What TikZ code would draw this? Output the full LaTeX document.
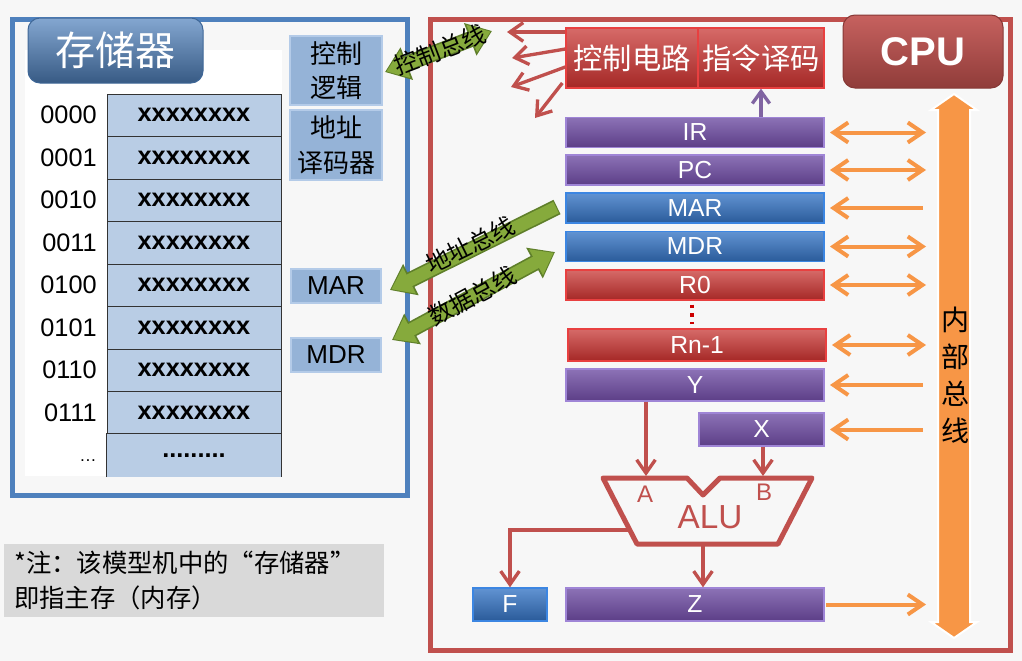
\documentclass[tikz,border=0pt]{standalone}
\usepackage{fontspec}
\setmainfont{Liberation Sans}
\newfontfamily\cjk{Noto Sans CJK SC}
\usetikzlibrary{arrows.meta,calc}
\definecolor{bgc}{HTML}{F7F7F7}
\definecolor{memblue}{HTML}{4F81BD}
\definecolor{cellc}{HTML}{B9CDE5}
\definecolor{sideF}{HTML}{95B3D7}
\definecolor{sideB}{HTML}{B4CBE8}
\definecolor{cpured}{HTML}{C0504D}
\definecolor{orng}{HTML}{F79646}
\definecolor{gbusc}{HTML}{86AA3C}
\definecolor{gbusd}{HTML}{5F7F2A}
\definecolor{pT}{HTML}{8C72B6}
\definecolor{pB}{HTML}{5C3E87}
\definecolor{pD}{HTML}{9F85D6}
\definecolor{rT}{HTML}{D66A68}
\definecolor{rB}{HTML}{A52826}
\definecolor{rD}{HTML}{E84040}
\definecolor{bT}{HTML}{6193D2}
\definecolor{bB}{HTML}{2A5B9A}
\definecolor{bD}{HTML}{3C86E2}
\definecolor{notegray}{HTML}{D9D9D9}
\definecolor{purpA}{HTML}{8064A2}
\newcommand{\regf}{\fontsize{18.5}{21}\selectfont}
\begin{document}
\begin{tikzpicture}[x=0.75pt,y=-0.75pt,
  regbase/.style={rectangle, line width=1pt, text=white, font=\regf, minimum width=193.5pt, minimum height=22.5pt, inner sep=0pt},
  purplereg/.style={regbase, draw=pD, top color=pT, bottom color=pB},
  redreg/.style={regbase, draw=rD, top color=rT, bottom color=rB},
  bluereg/.style={regbase, draw=bD, top color=bT, bottom color=bB},
  cell/.style={rectangle, draw=black!80, line width=0.75pt, fill=cellc, minimum width=130.5pt, minimum height=31.875pt, inner sep=0pt, font=\bfseries\fontsize{19}{22}\selectfont},
  addr/.style={anchor=east, inner sep=0pt, font=\fontsize{19}{22}\selectfont},
  sidebox/.style={rectangle, draw=sideB, line width=1.5pt, fill=sideF, align=center, inner sep=0pt, font=\cjk\fontsize{19.5}{26}\selectfont},
  oboth/.style={draw=orng, line width=3pt, {Straight Barb[length=11pt,width=15pt]}-{Straight Barb[length=11pt,width=15pt]}, shorten <=4pt, shorten >=9pt},
  oleft/.style={draw=orng, line width=3pt, {Straight Barb[length=11pt,width=15pt]}-, shorten <=4pt, shorten >=11pt},
  oright/.style={draw=orng, line width=3pt, -{Straight Barb[length=11pt,width=15pt]}, shorten <=1pt, shorten >=9pt},
  rarr/.style={draw=cpured, line width=2.5pt, -{Straight Barb[length=10pt,width=14pt]}},
  parr/.style={draw=purpA, line width=2.5pt, -{Straight Barb[length=9pt,width=13pt]}},
  gbothd/.style={draw=gbusd, line width=12pt, {Triangle[length=17.5pt,width=25pt]}-{Triangle[length=17.5pt,width=25pt]}},
  gsingled/.style={draw=gbusd, line width=12pt, -{Triangle[length=17.5pt,width=25pt]}},
  gboth/.style={draw=gbusc, line width=9.5pt, {Triangle[length=15pt,width=21pt]}-{Triangle[length=15pt,width=21pt]}, shorten <=1.2pt, shorten >=1.2pt},
  gsingle/.style={draw=gbusc, line width=9.5pt, -{Triangle[length=15pt,width=21pt]}, shorten <=0.8pt, shorten >=1.2pt},
  gtext/.style={font=\cjk\fontsize{18}{20}\selectfont, inner sep=0pt},
  alutext/.style={text=cpured, inner sep=0pt}
]
\useasboundingbox (0,0) rectangle (1022,661);
\fill[bgc] (0,0) rectangle (1022,661);

% ---------------- memory ----------------
\draw[memblue, line width=3.75pt] (12,19) rectangle (407,495);
\fill[white] (25,50) rectangle (282,476);
\foreach \i/\a in {0/0000,1/0001,2/0010,3/0011,4/0100,5/0101,6/0110,7/0111}{
  \node[cell] (d\i) at (194,{115.25+42.5*\i}) {xxxxxxxx};
  \node[addr] (a\i) at (97,{115.25+42.5*\i}) {\a};
}
\node[cell, draw=none] (d8) at (194,455.25) {.........};
\draw[black!80, line width=0.75pt] (d8.south west) -- (d8.north west) -- (d8.north east) -- (d8.south east);
\node[addr, font=\fontsize{13}{15}\selectfont] (a8) at (97,461) {…};

\node[rounded corners=9pt, draw=memblue!80!black, line width=0.75pt, top color=memblue!70!white, bottom color=memblue!70!black, text=white, font=\cjk\fontsize{30}{34}\selectfont, minimum width=131.25pt, minimum height=48.75pt, inner sep=0pt] (memt) at (115.5,50.5) {存储器};

\node[sidebox, minimum width=69pt, minimum height=51.75pt] (logic) at (336,70.5) {控制\\逻辑};
\node[sidebox, minimum width=69pt, minimum height=52.5pt] (adec) at (336,145) {地址\\译码器};
\node[sidebox, font=\fontsize{19.5}{22}\selectfont, minimum width=67.5pt, minimum height=25.5pt] (mMAR) at (336,286) {MAR};
\node[sidebox, font=\fontsize{19.5}{22}\selectfont, minimum width=67.5pt, minimum height=25.5pt] (mMDR) at (336,355) {MDR};

% ---------------- note ----------------
\fill[notegray] (4,544) rectangle (384,617);
\node[anchor=west, align=left, inner sep=0pt, font=\cjk\fontsize{19}{26}\selectfont] (note) at (14,580.5) {*注：该模型机中的“存储器”\\即指主存（内存）};

% ---------------- CPU ----------------
\draw[cpured, line width=3.75pt] (430,19) rectangle (1010,650);
\node[rounded corners=9pt, draw=cpured!70!black, line width=0.75pt, top color=cpured!90!white, bottom color=cpured!75!black, text=white, font=\bfseries\fontsize{30}{34}\selectfont, minimum width=120pt, minimum height=54.75pt, inner sep=0pt] (cput) at (923,51.5) {CPU};

\node[redreg, minimum width=99pt, minimum height=45pt, font=\cjk\fontsize{22}{26}\selectfont] (ctrl) at (632,58) {控制电路};
\node[redreg, minimum width=94.5pt, minimum height=45pt, font=\cjk\fontsize{22}{26}\selectfont] (dec) at (761,58) {指令译码};

\node[purplereg] (IR) at (695,132.5) {IR};
\node[purplereg] (PC) at (695,170) {PC};
\node[bluereg] (MAR) at (695,208) {MAR};
\node[bluereg] (MDR) at (695,246.5) {MDR};
\node[redreg] (R0) at (695,285) {R0};
\node[redreg, minimum height=24pt] (Rn) at (697,345) {Rn-1};
\node[purplereg, minimum height=24pt] (Y) at (695,385) {Y};
\node[purplereg, minimum width=93.75pt, minimum height=24.75pt] (X) at (761.5,429.5) {X};
\node[purplereg, minimum height=24.75pt] (Z) at (695,604.5) {Z};
\node[bluereg, minimum width=55.5pt, minimum height=24.75pt] (F) at (510,604.5) {F};

\draw[red!80!black, line width=2.5pt, dash pattern=on 2.5pt off 4pt] ($(R0.south)+(-3,4)$) -- ($(Rn.north)+(-5,-4)$);

% control arrows
\coordinate (k1) at (507,32);
\coordinate (k2) at (512,58);
\coordinate (k3) at (511,87);
\coordinate (k4) at (535,118);
\draw[rarr] ($(ctrl.west)+(0,-26)$) -- (k1);
\draw[rarr] ($(ctrl.west)+(0,-9)$) -- (k2);
\draw[rarr] ($(ctrl.west)+(0,9)$) -- (k3);
\draw[rarr] ($(ctrl.west)+(-3,25)$) -- (k4);
\draw[parr] (IR.north -| dec.south) -- (dec.south);

% internal bus
\coordinate (busL) at (938,366);
\filldraw[fill=orng, draw=white, line width=1.5pt] (954,94) -- (977,110) -- (970,110) -- (970,622) -- (977,622) -- (954,638) -- (931,622) -- (938,622) -- (938,110) -- (931,110) -- cycle;
\node[align=center, inner sep=0pt, font=\cjk\fontsize{21}{27.75}\selectfont] (bust) at (955,375) {内\\部\\总\\线};

\draw[oboth] (IR.east) -- (IR.east -| busL);
\draw[oboth] (PC.east) -- (PC.east -| busL);
\draw[oleft] (MAR.east) -- (MAR.east -| busL);
\draw[oboth] (MDR.east) -- (MDR.east -| busL);
\draw[oboth] (R0.east) -- (R0.east -| busL);
\draw[oboth] (Rn.east) -- (Rn.east -| busL);
\draw[oleft] (Y.east) -- (Y.east -| busL);
\draw[oleft] (X.east) -- (X.east -| busL);
\draw[oright] (Z.east) -- (Z.east -| busL);

% ALU
\coordinate (atl) at (603,478);
\coordinate (an1) at (687,478);
\coordinate (anb) at (703,495);
\coordinate (an2) at (720,478);
\coordinate (atr) at (812,478);
\coordinate (abr) at (778,544);
\coordinate (abl) at (637,544);
\draw[cpured, line width=3.75pt, line join=round] (atl) -- (an1) -- (anb) -- (an2) -- (atr) -- (abr) -- (abl) -- cycle;
\node[alutext, font=\fontsize{25}{29}\selectfont] (alu) at (710,517) {ALU};
\node[alutext, font=\fontsize{18}{21}\selectfont] (la) at (645,494) {A};
\node[alutext, font=\fontsize{18}{21}\selectfont] (lb) at (764,492) {B};
\coordinate (Ain) at (646,476);
\coordinate (Bin) at (763,476);
\coordinate (aout) at (703,544);
\coordinate (aleft) at ($(atl)!0.79!(abl)$);
\draw[rarr] (Y.south -| Ain) -- (Ain);
\draw[rarr] (X.south -| Bin) -- (Bin);
\draw[rarr] (aout) -- (aout |- Z.north);
\draw[rarr] (aleft) -| (F.north);

% green buses
\coordinate (cb1) at (385,72);
\coordinate (cb2) at (492,31);
\coordinate (ab1) at (557,207);
\coordinate (ab2) at (390,290);
\coordinate (db1) at (392,340);
\coordinate (db2) at (555,252);
\draw[gbothd] (cb1) -- (cb2);
\draw[gsingled] (ab1) -- (ab2);
\draw[gbothd] (db1) -- (db2);
\draw[gboth] (cb1) -- (cb2);
\draw[gsingle] (ab1) -- (ab2);
\draw[gboth] (db1) -- (db2);
\node[gtext, rotate=21] (cbt) at (440,50) {控制总线};
\node[gtext, rotate=26.4] (abt) at (470,245) {地址总线};
\node[gtext, rotate=28.4] (dbt) at (472,296) {数据总线};
\end{tikzpicture}
\end{document}
